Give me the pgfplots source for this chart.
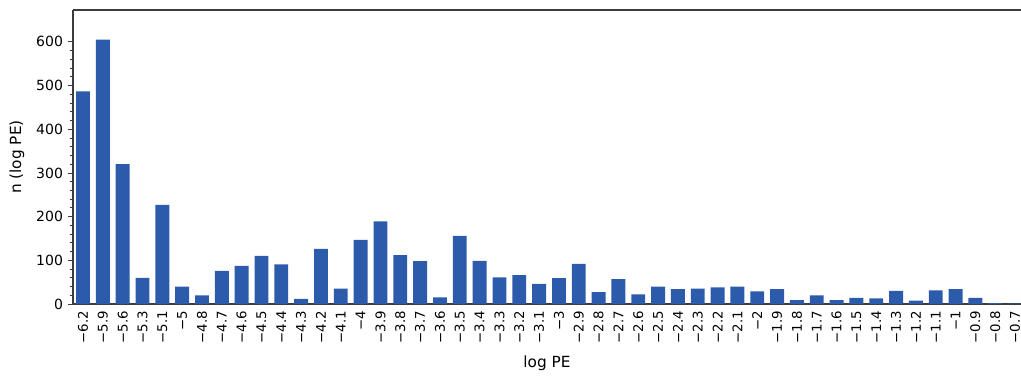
\documentclass[border=0pt]{standalone}
\usepackage{fontspec}
\setmainfont{DejaVu Sans}
\usepackage{pgfplots}
\pgfplotsset{compat=1.18}
\definecolor{barblue}{RGB}{45,91,172}
\definecolor{axgray}{RGB}{60,60,60}
\begin{document}
\begin{tikzpicture}
\path[use as bounding box] (-54.75pt,-54pt) rectangle (711pt,228pt);
\begin{axis}[
  at={(0,0)}, anchor=south west,
  scale only axis, width=711pt, height=220.5pt,
  axis lines*=left,
  axis line style={axgray, line width=0.8pt},
  xmin=-0.504, xmax=47.3, ymin=0, ymax=673,
  xtick={0,...,47},
  xticklabels={−6.2,−5.9,−5.6,−5.3,−5.1,−5,−4.8,−4.7,−4.6,−4.5,−4.4,−4.3,−4.2,−4.1,−4,−3.9,−3.8,−3.7,−3.6,−3.5,−3.4,−3.3,−3.2,−3.1,−3,−2.9,−2.8,−2.7,−2.6,−2.5,−2.4,−2.3,−2.2,−2.1,−2,−1.9,−1.8,−1.7,−1.6,−1.5,−1.4,−1.3,−1.2,−1.1,−1,−0.9,−0.8,−0.7},
  x tick label style={rotate=90, anchor=east, font=\fontsize{10}{11}\selectfont, inner sep=1pt},
  x tick style={draw=none},
  ytick={0,100,...,600},
  minor y tick num=4,
  y tick label style={font=\fontsize{10.5}{12}\selectfont},
  tick align=outside,
  major tick length=4pt, minor tick length=2.5pt,
  y tick style={axgray, line width=0.6pt},
  /pgf/number format/assume math mode=true,
  xlabel={log PE}, ylabel={n (log PE)},
  label style={font=\fontsize{11.5}{13}\selectfont},
  xlabel style={yshift=-5pt},
  ylabel style={yshift=2pt},
  ybar, bar width=0.7,
  clip=false,
]
\addplot[fill=barblue, draw=none] coordinates {
(0,487) (1,605) (2,320) (3,60) (4,227) (5,40) (6,20) (7,76) (8,87) (9,110)
(10,91) (11,12) (12,126) (13,35) (14,147) (15,189) (16,112) (17,98) (18,15) (19,156)
(20,99) (21,61) (22,66) (23,46) (24,59) (25,92) (26,27) (27,57) (28,22) (29,40)
(30,34) (31,35) (32,38) (33,40) (34,29) (35,34) (36,9) (37,20) (38,9) (39,14)
(40,13) (41,30) (42,8) (43,31) (44,34) (45,14) (46,2) (47,1)
};
\draw[axgray, line width=0.8pt] (rel axis cs:0,1) -- (rel axis cs:1,1);
\end{axis}
\end{tikzpicture}
\end{document}
